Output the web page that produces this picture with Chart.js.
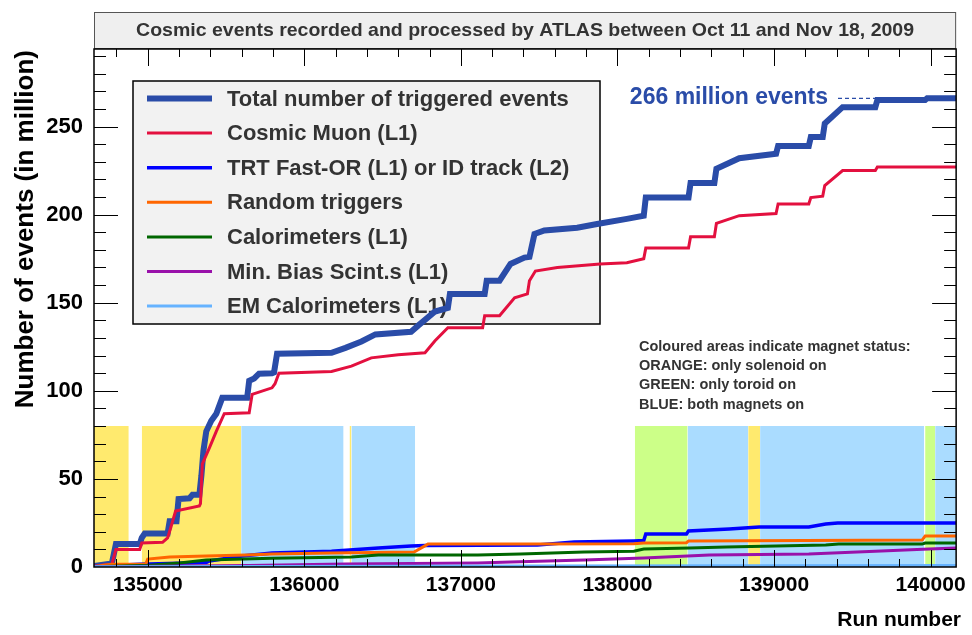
<!DOCTYPE html>
<html>
<head>
<meta charset="utf-8">
<title>ATLAS cosmic events 2009</title>
<script src="https://cdn.jsdelivr.net/npm/chart.js@4.4.0/dist/chart.umd.min.js"></script>
<style>
  html, body { margin: 0; padding: 0; background: #fff; }
  #wrap { width: 972px; height: 635px; }
</style>
</head>
<body>
<div id="wrap"><canvas id="runs" width="972" height="635"></canvas></div>
<script>
// cumulative number of events (millions) per run: [run, events]
const totalTriggered = [
  [134657, 0.5], [134771, 2], [134797, 13], [134949, 13], [134962, 16.5], [134981, 19],
  [135127, 19], [135140, 26], [135184, 26], [135197, 38.6], [135267, 39], [135286, 41],
  [135330, 41], [135343, 52], [135356, 66], [135374, 77], [135406, 83], [135438, 87],
  [135476, 96], [135635, 96], [135648, 105.7], [135680, 107], [135711, 109.7], [135794, 110],
  [135807, 110.5], [135826, 121], [136174, 121.6], [136263, 124.4], [136365, 128], [136454, 132],
  [136682, 133.5], [136727, 137], [136835, 145], [136917, 147], [136930, 155], [137152, 155],
  [137165, 162.5], [137247, 162.5], [137317, 172], [137406, 175.6], [137438, 176], [137470, 189],
  [137533, 191], [137743, 192.6], [137870, 194.7], [138060, 197.6], [138168, 199.4], [138181, 209.7],
  [138454, 209.7], [138467, 218], [138619, 218], [138632, 226], [138778, 232], [139013, 234.5],
  [139026, 239], [139222, 239], [139235, 244], [139311, 244], [139324, 251.7], [139438, 261],
  [139647, 261], [139660, 265], [139965, 265], [139978, 266], [140163, 266]
];
const cosmicMuon = [
  [134657, 0.5], [134771, 1.5], [134797, 10], [134949, 10], [134962, 13.6], [135095, 14],
  [135127, 16.5], [135146, 22], [135178, 31.8], [135330, 34.7], [135337, 36], [135349, 58.5],
  [135394, 67.6], [135438, 77], [135489, 87], [135648, 87.5], [135667, 98], [135794, 101.7],
  [135813, 104], [135838, 110], [136174, 111], [136301, 114], [136428, 118.7], [136600, 120.5],
  [136771, 121.6], [136835, 128.4], [136917, 135.8], [137139, 135.8], [137152, 142.6], [137247, 142.6],
  [137343, 152.8], [137425, 155], [137438, 162.5], [137476, 168], [137616, 170], [137889, 172],
  [138060, 172.7], [138168, 175], [138181, 181], [138454, 181], [138467, 187.5], [138619, 187.5],
  [138632, 195], [138778, 199.4], [139013, 200.6], [139026, 206], [139222, 206], [139235, 209.7],
  [139311, 210.5], [139324, 216.5], [139438, 225], [139647, 225], [139660, 227], [140163, 227]
];
const trtTrack = [
  [134657, 0.3], [134949, 1.5], [135374, 2.5], [135394, 3.4], [135603, 6.2], [135794, 8],
  [136174, 9], [136473, 10.8], [136682, 11.9], [136771, 12.2], [137489, 12.5], [137724, 14.2],
  [138105, 14.8], [138168, 15], [138181, 18.7], [138441, 18.7], [138454, 20.5], [138714, 21.6],
  [138905, 22.7], [139222, 22.7], [139330, 24.4], [139407, 25], [140163, 25]
];
const randomTrig = [
  [134657, 0.3], [134771, 1.5], [134987, 1.7], [135000, 4.5], [135140, 5.7], [135374, 6.2],
  [135629, 6.8], [135794, 7.4], [136174, 8], [136701, 8.5], [136790, 13], [137425, 13],
  [138105, 13.2], [138168, 13.6], [138441, 13.8], [138454, 14.8], [139946, 15.3], [139965, 17.6],
  [140163, 17.6]
];
const calorimeters = [
  [134657, 0.2], [135013, 1], [135203, 2.3], [135374, 4], [135794, 5], [136301, 5.7],
  [136473, 6.8], [137108, 6.8], [137381, 7.4], [137787, 8.5], [138105, 9], [138168, 10.2],
  [138460, 10.8], [138695, 11.3], [139330, 12.5], [139413, 13], [139946, 13], [139965, 13.6],
  [140163, 13.6]
];
const minBias = [
  [134657, 0.1], [135648, 0.8], [136263, 1.7], [137108, 2.3], [137317, 2.8], [137787, 4],
  [138168, 5.1], [138587, 6.8], [139222, 7.4], [139647, 9], [139990, 10.2], [140163, 10.8]
];
const emCalo = [
  [134657, 0.1], [135800, 0.3], [137500, 0.5], [140163, 0.8]
];

// magnet status per run range: [first run, last run, status]
const magnetBands = [
  [134657, 134879, 'solenoid'], [134962, 135597, 'solenoid'], [135597, 136251, 'both'],
  [136289, 136301, 'solenoid'], [136301, 136708, 'both'], [138111, 138448, 'toroid'],
  [138448, 138835, 'both'], [138835, 138911, 'solenoid'], [138911, 139959, 'both'],
  [139965, 140029, 'toroid'], [140029, 140163, 'both']
];
const bandTop = 80;
const totalLabelValue = 266;

const runTicks = [135000, 136000, 137000, 138000, 139000, 140000];
const eventTicks = [0, 50, 100, 150, 200, 250];
const runRange = [134657, 140163];
const eventRange = [0, 294];

const titleText = 'Cosmic events recorded and processed by ATLAS between Oct 11 and Nov 18, 2009';
const noteLines = [
  'Coloured areas indicate magnet status:',
  'ORANGE: only solenoid on',
  'GREEN: only toroid on',
  'BLUE: both magnets on'
];

const FONT = '"Liberation Sans", Arial, Helvetica, sans-serif';
const bandColors = { solenoid: '#ffea6e', toroid: '#ccff88', both: '#aadcff' };

const series = [
  { label: 'Total number of triggered events', points: totalTriggered, color: '#2a4ca8', width: 6 },
  { label: 'Cosmic Muon (L1)', points: cosmicMuon, color: '#e3103f', width: 3 },
  { label: 'TRT Fast-OR (L1) or ID track (L2)', points: trtTrack, color: '#0000ff', width: 3.5 },
  { label: 'Random triggers', points: randomTrig, color: '#ff6600', width: 3 },
  { label: 'Calorimeters (L1)', points: calorimeters, color: '#006600', width: 3 },
  { label: 'Min. Bias Scint.s (L1)', points: minBias, color: '#9911aa', width: 3 },
  { label: 'EM Calorimeters (L1)', points: emCalo, color: '#66b3ff', width: 3 }
];

const lineSets = series.map((s, i) => ({
  label: s.label,
  data: s.points.map(([x, y]) => ({ x, y })),
  borderColor: s.color,
  borderWidth: s.width,
  pointRadius: 0,
  tension: 0,
  fill: false,
  inLegend: true,
  order: 50 - i
}));

const bandSets = magnetBands.map(([from, to, status]) => ({
  label: '',
  data: [{ x: from, y: bandTop }, { x: to, y: bandTop }],
  borderWidth: 0,
  pointRadius: 0,
  backgroundColor: bandColors[status],
  fill: 'origin',
  order: 100
}));

function line(ctx, x1, y1, x2, y2) {
  ctx.beginPath();
  ctx.moveTo(x1, y1);
  ctx.lineTo(x2, y2);
  ctx.stroke();
}

// draws text squeezed/stretched to a given width
function fitText(ctx, text, x, y, width) {
  const w = ctx.measureText(text).width;
  ctx.save();
  ctx.translate(x, y);
  ctx.scale(width / w, 1);
  ctx.fillText(text, 0, 0);
  ctx.restore();
}

const atlasDecor = {
  id: 'atlasDecor',
  beforeDraw(chart) {
    const { ctx, chartArea: a } = chart;
    ctx.save();
    ctx.fillStyle = '#fff';
    ctx.fillRect(0, 0, chart.width, chart.height);
    // title box
    ctx.fillStyle = '#efefef';
    ctx.fillRect(a.left, 12, a.right - a.left, 36);
    ctx.strokeStyle = '#555';
    ctx.lineWidth = 1;
    ctx.strokeRect(a.left + 0.5, 12.5, a.right - a.left - 1, 36);
    ctx.fillStyle = '#333';
    ctx.font = 'bold 18.5px ' + FONT;
    ctx.textAlign = 'center';
    ctx.textBaseline = 'middle';
    fitText(ctx, titleText, (a.left + a.right) / 2, 31, 778);
    ctx.restore();
  },
  beforeDatasetsDraw(chart) {
    // legend box sits under the curves
    const ctx = chart.ctx;
    const items = chart.data.datasets.filter(d => d.inLegend);
    ctx.save();
    ctx.fillStyle = '#f2f2f2';
    ctx.fillRect(133, 81, 467, 243);
    ctx.strokeStyle = '#000';
    ctx.lineWidth = 1.5;
    ctx.strokeRect(133, 81, 467, 243);
    ctx.font = 'bold 22px ' + FONT;
    ctx.textAlign = 'left';
    ctx.textBaseline = 'middle';
    items.forEach((d, i) => {
      const y = 98.5 + i * 34.6;
      ctx.strokeStyle = d.borderColor;
      ctx.lineWidth = d.borderWidth;
      line(ctx, 147, y, 212, y);
      ctx.fillStyle = '#333';
      ctx.fillText(d.label, 227, y + 1);
    });
    ctx.restore();
  },
  afterDatasetsDraw(chart) {
    const { ctx, chartArea: a } = chart;
    const xs = chart.scales.x, ys = chart.scales.y;
    ctx.save();
    ctx.strokeStyle = '#000';
    ctx.lineWidth = 1;
    // ticks on all four sides, pointing inwards
    for (let r = Math.ceil(xs.min / 200) * 200; r <= xs.max; r += 200) {
      const px = Math.round(xs.getPixelForValue(r)) + 0.5;
      const len = r % 1000 === 0 ? 17 : 8;
      line(ctx, px, a.bottom, px, a.bottom - len);
      line(ctx, px, a.top, px, a.top + len);
    }
    for (let v = 10; v <= ys.max; v += 10) {
      const py = Math.round(ys.getPixelForValue(v)) + 0.5;
      const len = v % 50 === 0 ? 24 : 12;
      line(ctx, a.left, py, a.left + len, py);
      line(ctx, a.right, py, a.right - len, py);
    }
    ctx.lineWidth = 1.5;
    ctx.strokeRect(a.left, a.top, a.right - a.left, a.bottom - a.top);

    // final total marker
    const last = totalTriggered[totalTriggered.length - 1];
    const yv = ys.getPixelForValue(totalLabelValue);
    ctx.fillStyle = '#2a4ca8';
    ctx.font = 'bold 23px ' + FONT;
    ctx.textAlign = 'right';
    ctx.textBaseline = 'middle';
    ctx.fillText(totalLabelValue + ' million events', 828, yv - 1);
    ctx.strokeStyle = '#2a4ca8';
    ctx.lineWidth = 1.2;
    ctx.setLineDash([4, 3]);
    line(ctx, 838, yv, xs.getPixelForValue(last[0]), yv);
    ctx.setLineDash([]);

    // magnet status note
    ctx.fillStyle = '#333';
    ctx.font = 'bold 14.5px ' + FONT;
    ctx.textAlign = 'left';
    noteLines.forEach((t, i) => ctx.fillText(t, 639, 347 + i * 19.2));

    // axis titles
    ctx.fillStyle = '#000';
    ctx.font = 'bold 21px ' + FONT;
    ctx.textAlign = 'right';
    ctx.fillText('Run number', 961, 620);
    ctx.translate(26, 50);
    ctx.rotate(-Math.PI / 2);
    ctx.font = 'bold 26px ' + FONT;
    ctx.fillText('Number of events (in million)', 0, 0);
    ctx.restore();
  }
};

new Chart(document.getElementById('runs'), {
  type: 'line',
  data: { datasets: [...lineSets, ...bandSets] },
  options: {
    responsive: false,
    animation: false,
    devicePixelRatio: 1,
    layout: { padding: { top: 49, right: 12, left: 0, bottom: 0 } },
    plugins: { legend: { display: false }, tooltip: { enabled: false } },
    scales: {
      x: {
        type: 'linear',
        min: runRange[0],
        max: runRange[1],
        grid: { display: false, drawTicks: false },
        border: { display: false },
        ticks: {
          color: '#000',
          font: { family: FONT, size: 21, weight: 'bold' },
          padding: 6,
          maxRotation: 0,
          autoSkip: false,
          callback: v => String(v)
        },
        afterBuildTicks: s => { s.ticks = runTicks.map(v => ({ value: v })); },
        afterFit: s => { s.height = 68; }
      },
      y: {
        type: 'linear',
        min: eventRange[0],
        max: eventRange[1],
        grid: { display: false, drawTicks: false },
        border: { display: false },
        ticks: {
          color: '#000',
          font: { family: FONT, size: 22, weight: 'bold' },
          padding: 11,
          autoSkip: false,
          callback: v => String(v)
        },
        afterBuildTicks: s => { s.ticks = eventTicks.map(v => ({ value: v })); },
        afterFit: s => { s.width = 94; }
      }
    }
  },
  plugins: [atlasDecor]
});
</script>
</body>
</html>
